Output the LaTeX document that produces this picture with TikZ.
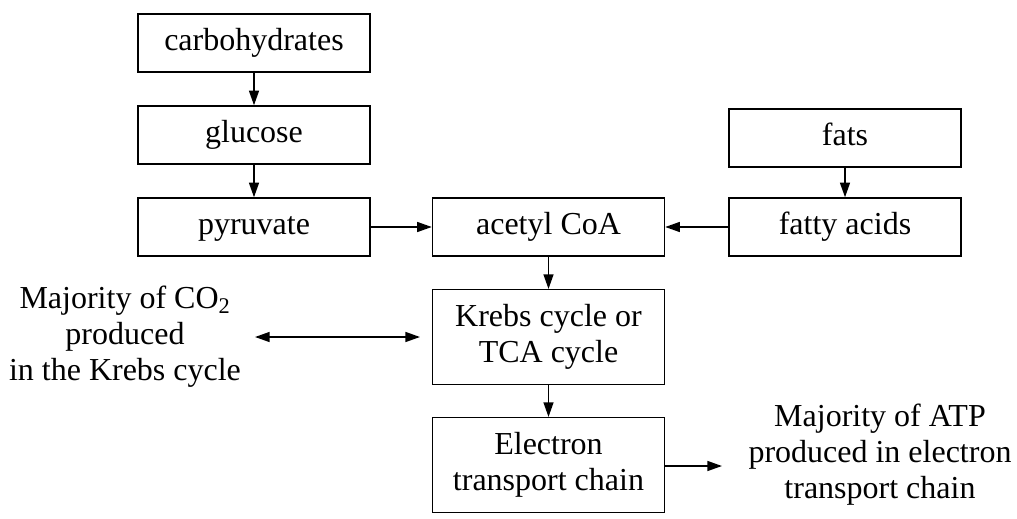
\documentclass[tikz,border=0pt]{standalone}
\usepackage{fontspec}
\setmainfont{Liberation Serif}
\usetikzlibrary{arrows.meta}
\begin{document}
\begin{tikzpicture}[x=0.75pt,y=-0.75pt,
  every node/.style={font=\fontsize{24}{27}\selectfont},
  box/.style={draw,line width=1.1pt,minimum width=174pt,minimum height=43.5pt,inner sep=0pt,align=center},
  onebox/.style={box,text height=16.5pt,text depth=5pt},
  tallbox/.style={box,minimum height=71pt},
  lbl/.style={align=center,inner sep=0pt},
  conn/.style={line width=1.1pt,-{Triangle[length=11pt,width=7.5pt]}},
  dconn/.style={line width=1.1pt,{Triangle[length=11pt,width=7.5pt]}-{Triangle[length=11pt,width=7.5pt]}}]
\useasboundingbox (0,0) rectangle (1017,518);
\node[onebox] (carb) at (254,43) {carbohydrates};
\node[onebox] (glu) at (254,135) {glucose};
\node[onebox] (pyr) at (254,227) {pyruvate};
\node[onebox] (acc) at (548.5,227) {acetyl CoA};
\node[onebox] (fats) at (845,138) {fats};
\node[onebox] (fa) at (845,227) {fatty acids};
\node[tallbox] (krebs) at (548.5,337) {Krebs cycle or\\TCA cycle};
\node[tallbox] (etc) at (548.5,465) {Electron\\transport chain};
\node[lbl] (co2) at (125,337) {Majority of CO\textsubscript{2}\\produced\\in the Krebs cycle};
\node[lbl] (atp) at (880,455) {Majority of ATP\\produced in electron\\transport chain};
\coordinate (dl) at (255,337);
\coordinate (dr) at (420,337);
\coordinate (ae) at (722,466);
\draw[conn] (carb) -- (glu);
\draw[conn] (glu) -- (pyr);
\draw[conn] (pyr) -- (acc);
\draw[conn] (fa) -- (acc);
\draw[conn] (fats) -- (fa);
\draw[conn] (acc) -- (krebs);
\draw[conn] (krebs) -- (etc);
\draw[dconn] (dl) -- (dr);
\draw[conn] (etc.east |- ae) -- (ae);
\end{tikzpicture}
\end{document}
